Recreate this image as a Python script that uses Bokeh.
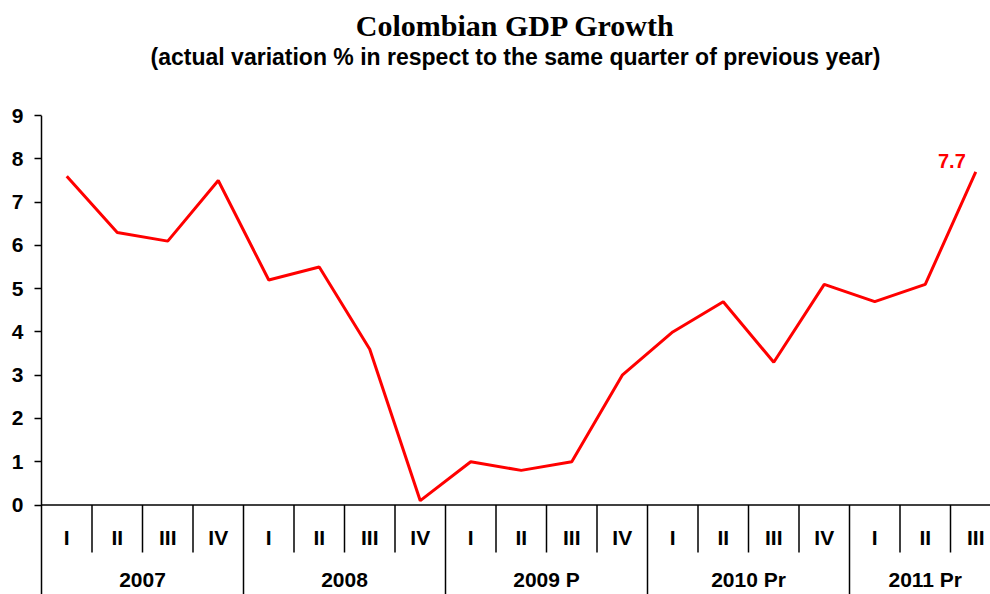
from bokeh.plotting import figure
from bokeh.models import Range1d, FixedTicker, ColumnDataSource
from bokeh.core.properties import value
from bokeh.embed import file_html
from bokeh.resources import INLINE

# ---- data ----
quarters = ["I", "II", "III", "IV", "I", "II", "III", "IV", "I", "II", "III", "IV",
            "I", "II", "III", "IV", "I", "II", "III"]
years = ["2007", "2008", "2009 P", "2010 Pr", "2011 Pr"]
year_quarter_counts = [4, 4, 4, 4, 3]
gdp_growth = [7.6, 6.3, 6.1, 7.5, 5.2, 5.5, 3.6, 0.1, 1.0, 0.8, 1.0, 3.0,
              4.0, 4.7, 3.3, 5.1, 4.7, 5.1, 7.7]
y_ticks = [0, 1, 2, 3, 4, 5, 6, 7, 8, 9]

title_text = "Colombian GDP Growth"
subtitle_text = "(actual variation % in respect to the same quarter of previous year)"

SANS = "Liberation Sans"
SERIF = "Liberation Serif"
RED = "#FF0000"

# ---- geometry (pixels -> data) ----
W, H = 990, 594
px_per_q = 50.5
px_per_unit = 43.26
left_border = 39
x0_px = 2  # x=0 sits 2px inside the frame
frame_w = W - left_border
x_start = -x0_px / px_per_q
x_end = x_start + frame_w / px_per_q
zero_px = 504.5
y_top = zero_px / px_per_unit
y_bot = -(H - zero_px) / px_per_unit

p = figure(width=W, height=H, output_backend="svg", toolbar_location=None,
           x_range=Range1d(x_start, x_end), y_range=Range1d(y_bot, y_top),
           x_axis_location=None, y_axis_location="left",
           min_border_left=left_border, min_border_right=0,
           min_border_top=0, min_border_bottom=0)
p.outline_line_color = None
p.grid.visible = False
p.background_fill_color = "white"
p.border_fill_color = "white"

ax = p.yaxis[0]
ax.ticker = FixedTicker(ticks=y_ticks)
ax.axis_line_color = None
ax.major_tick_line_color = "black"
ax.major_tick_line_width = 1.5
ax.major_tick_out = 5
ax.major_tick_in = 2
ax.minor_tick_line_color = None
ax.major_label_text_font = SANS
ax.major_label_text_font_style = "bold"
ax.major_label_text_font_size = "21px"
ax.major_label_text_color = "black"
ax.major_label_standoff = 11

n = len(quarters)
xs = [i + 0.5 for i in range(n)]

# axes lines
q_low = -(552 - zero_px) / px_per_unit
p.segment(x0=[0], y0=[0], x1=[0], y1=[max(y_ticks)], line_color="black", line_width=1.5)
p.segment(x0=[0], y0=[0], x1=[x_end], y1=[0], line_color="black", line_width=1.5)

# separators
bounds = [0]
for c in year_quarter_counts:
    bounds.append(bounds[-1] + c)
year_seps = bounds[:-1]
quarter_seps = [i for i in range(1, n) if i not in bounds]
p.segment(x0=year_seps, y0=[0] * len(year_seps), x1=year_seps, y1=[y_bot] * len(year_seps),
          line_color="black", line_width=1.5)
p.segment(x0=quarter_seps, y0=[0] * len(quarter_seps), x1=quarter_seps,
          y1=[q_low] * len(quarter_seps), line_color="black", line_width=1.5)

# category labels
q_label_y = -(537 - zero_px) / px_per_unit
y_label_y = -(579 - zero_px) / px_per_unit
p.text(x=xs, y=[q_label_y] * n, text=quarters, text_font=value(SANS),
       text_font_style="bold", text_font_size="21px", text_align="center",
       text_baseline="middle", text_color="black")
year_centers = [(bounds[i] + bounds[i + 1]) / 2 for i in range(len(years))]
p.text(x=year_centers, y=[y_label_y] * len(years), text=years, text_font=value(SANS),
       text_font_style="bold", text_font_size="21px", text_align="center",
       text_baseline="middle", text_color="black")

# data line
src = ColumnDataSource(dict(x=xs, y=gdp_growth))
p.line("x", "y", source=src, line_color=RED, line_width=3)

# last value label
p.text(x=[xs[-1]], y=[gdp_growth[-1]], text=[f"{gdp_growth[-1]:.1f}"],
       text_font=value(SANS), text_font_style="bold", text_font_size="20px",
       text_align="right", text_baseline="middle", text_color=RED,
       x_offset=-10, y_offset=-11)

# titles
tx = (515 - 41) / px_per_q
p.text(x=[tx], y=[(zero_px - 25) / px_per_unit], text=[title_text], text_font=value(SERIF),
       text_font_style="bold", text_font_size="30px", text_align="center",
       text_baseline="middle", text_color="black")
p.text(x=[tx], y=[(zero_px - 56) / px_per_unit], text=[subtitle_text], text_font=value(SANS),
       text_font_style="bold", text_font_size="23px", text_align="center",
       text_baseline="middle", text_color="black")

open("out.html", "w").write(file_html(p, INLINE))
